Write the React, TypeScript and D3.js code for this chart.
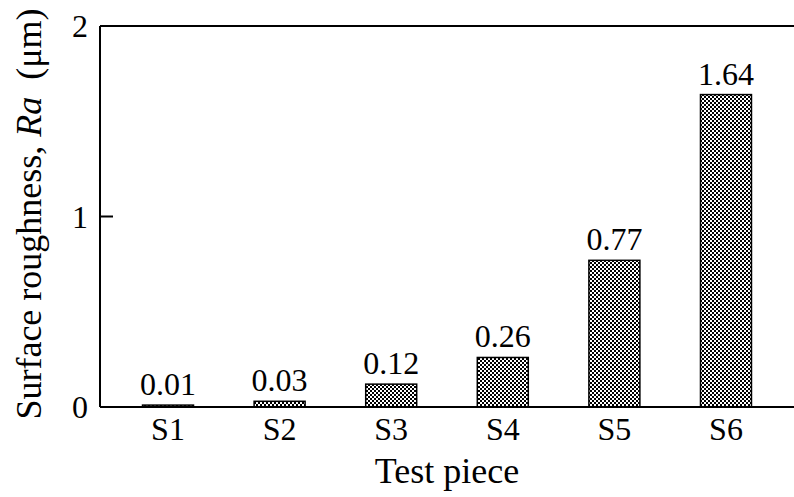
import React from "react";
import * as d3 from "d3";

const categories = ["S1", "S2", "S3", "S4", "S5", "S6"];
const values = [0.01, 0.03, 0.12, 0.26, 0.77, 1.64];
const valueLabels = ["0.01", "0.03", "0.12", "0.26", "0.77", "1.64"];
const yTicks = [0, 1, 2];

const W = 794;
const H = 497;
const left = 100;
const right = 794;
const top = 26;
const bottom = 407;
const font = "'Liberation Serif', 'Times New Roman', serif";
const fs = 32;
const titleFs = 36;

export default function App() {
  const x = d3
    .scaleBand<string>()
    .domain(categories)
    .range([left, right])
    .paddingInner(0.543)
    .paddingOuter(0.381);
  const y = d3.scaleLinear().domain([0, 2]).range([bottom, top]);

  return (
    <svg
      width={W}
      height={H}
      style={{ position: "absolute", left: 0, top: 0, background: "#fff" }}
      fontFamily={font}
    >
      <defs>
        <pattern id="dots" width={4} height={4} patternUnits="userSpaceOnUse">
          <rect width={4} height={4} fill="#fff" />
          <rect x={0} y={0} width={2} height={2} fill="#000" />
          <rect x={2} y={2} width={2} height={2} fill="#000" />
        </pattern>
      </defs>
      <rect width={W} height={H} fill="#fff" />
      {categories.map((c, i) => {
        const x0 = x(c)!;
        const yv = y(values[i]);
        return (
          <g key={c}>
            <rect
              x={x0}
              y={yv}
              width={x.bandwidth()}
              height={bottom - yv}
              fill="url(#dots)"
              stroke="#000"
              strokeWidth={1.5}
            />
            <text
              x={x0 + x.bandwidth() / 2}
              y={yv - 10}
              textAnchor="middle"
              fontSize={fs}
            >
              {valueLabels[i]}
            </text>
            <text
              x={x0 + x.bandwidth() / 2}
              y={440}
              textAnchor="middle"
              fontSize={fs}
            >
              {c}
            </text>
          </g>
        );
      })}
      <line x1={left} x2={left} y1={top} y2={bottom} stroke="#000" strokeWidth={2} />
      <line x1={left} x2={right} y1={top} y2={top} stroke="#000" strokeWidth={2} />
      <line x1={left} x2={right} y1={bottom} y2={bottom} stroke="#000" strokeWidth={2} />
      {yTicks.map((t) => (
        <g key={t}>
          {t !== 0 && t !== 2 && (
            <line x1={left} x2={left + 13} y1={y(t)} y2={y(t)} stroke="#000" strokeWidth={2} />
          )}
          <text x={88} y={y(t) + 11} textAnchor="end" fontSize={fs}>
            {t}
          </text>
        </g>
      ))}
      <text x={447} y={483} textAnchor="middle" fontSize={titleFs}>
        Test piece
      </text>
      <text
        transform={`translate(41, 214) rotate(-90)`}
        textAnchor="middle"
        fontSize={titleFs}
      >
        Surface roughness, <tspan fontStyle="italic">Ra</tspan>
        <tspan dx={8}>{" (μm)"}</tspan>
      </text>
    </svg>
  );
}
